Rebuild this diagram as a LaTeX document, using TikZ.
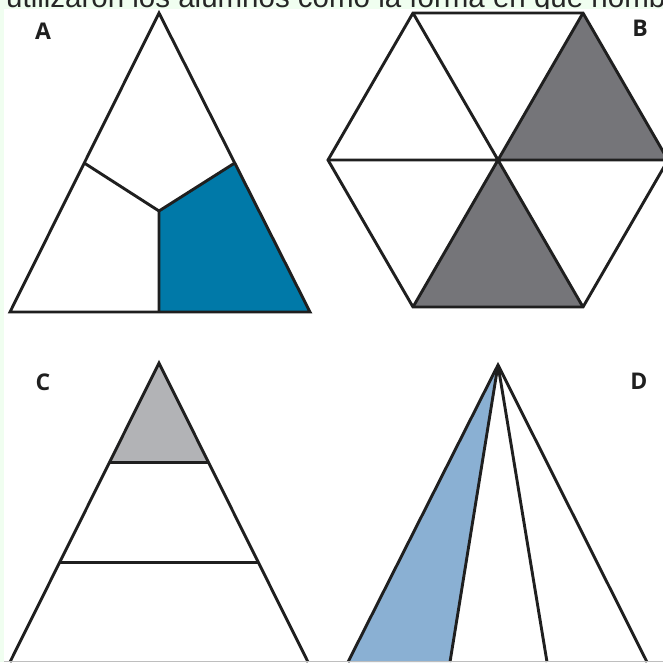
\documentclass[tikz,border=0pt]{standalone}
\usepackage{fontspec}
\setmainfont{Liberation Sans}
\newfontfamily\labelfont{Open Sans}
\usetikzlibrary{calc}
\definecolor{bggreen}{RGB}{240,254,240}
\definecolor{blueA}{RGB}{0,121,168}
\definecolor{grayB}{RGB}{117,117,121}
\definecolor{grayC}{RGB}{178,179,182}
\definecolor{blueD}{RGB}{138,176,211}
\definecolor{edgegray}{RGB}{190,190,190}
\tikzset{
  edge/.style={line width=2.9pt, draw=black!88, line join=miter},
  panellabel/.style={font=\labelfont\bfseries\fontsize{23}{23}\selectfont, text=black!88, inner sep=0pt}
}
\begin{document}
\begin{tikzpicture}[x=1pt,y=-1pt]
\useasboundingbox (0,0) rectangle (663,662);
\clip (0,0) rectangle (663,662);
% background
\fill[bggreen] (0,0) rectangle (663,662);
\begin{scope}
  \clip (0,0) rectangle (663,9);
  \node[anchor=base west, inner sep=0pt, font=\fontsize{29.5}{30}\selectfont, text=black!85] (toptext) at (6,7.5) {utilizaron los alumnos como la forma en que nombraron};
\end{scope}
\fill[white] (4,9) rectangle (663,662);

% ---------- Panel A ----------
\coordinate (A1) at (159,13);
\coordinate (A2) at (10,312);
\coordinate (A3) at (310,312);
\coordinate (Ac) at (159,211);
\coordinate (Al) at ($(A1)!0.5017!(A2)$);
\coordinate (Ar) at ($(A1)!0.5017!(A3)$);
\coordinate (Ab) at (159,312);
\fill[blueA] (Ac) -- (Ar) -- (A3) -- (Ab) -- cycle;
\draw[edge] (Ac) -- (Al) (Ac) -- (Ar) (Ac) -- (Ab);
\draw[edge] (A1) -- (A2) -- (A3) -- cycle;
\node[panellabel] (labA) at (43,31) {A};

% ---------- Panel B ----------
\coordinate (O) at (498,160);
\coordinate (B1) at (668,160);
\coordinate (B2) at (583,13);
\coordinate (B3) at (413,13);
\coordinate (B4) at (328,160);
\coordinate (B5) at (413,307);
\coordinate (B6) at (583,307);
\fill[grayB] (O) -- (B2) -- (B1) -- cycle;
\fill[grayB] (O) -- (B5) -- (B6) -- cycle;
\draw[edge] (B1) -- (B4) (B2) -- (B5) (B3) -- (B6);
\draw[edge] (B1) -- (B2) -- (B3) -- (B4) -- (B5) -- (B6) -- cycle;
\node[panellabel] (labB) at (640,28) {B};

% ---------- Panel C ----------
\coordinate (C1) at (159,363);
\coordinate (C2) at (10,662);
\coordinate (C3) at (308,662);
\coordinate (Cl1) at ($(C1)!1/3!(C2)$);
\coordinate (Cr1) at ($(C1)!1/3!(C3)$);
\coordinate (Cl2) at ($(C1)!2/3!(C2)$);
\coordinate (Cr2) at ($(C1)!2/3!(C3)$);
\fill[grayC] (C1) -- (Cl1) -- (Cr1) -- cycle;
\draw[edge] (Cl1) -- (Cr1) (Cl2) -- (Cr2);
\draw[edge] (C2) -- (C1) -- (C3);
\node[panellabel] (labC) at (43,382) {C};

% ---------- Panel D ----------
\coordinate (D0) at (498,365);
\coordinate (D1) at (348,662);
\coordinate (D2) at (450,662);
\coordinate (D3) at (547,662);
\coordinate (D4) at (647,662);
\fill[blueD] (D0) -- (D1) -- (D2) -- cycle;
\draw[edge] (D0) -- (D2) (D0) -- (D3);
\draw[edge] (D1) -- (D0) -- (D4);
\node[panellabel] (labD) at (639,381) {D};

% bottom edge remnant
\draw[edgegray, line width=1.3pt] (4,661.4) -- (663,661.4);
\end{tikzpicture}
\end{document}
